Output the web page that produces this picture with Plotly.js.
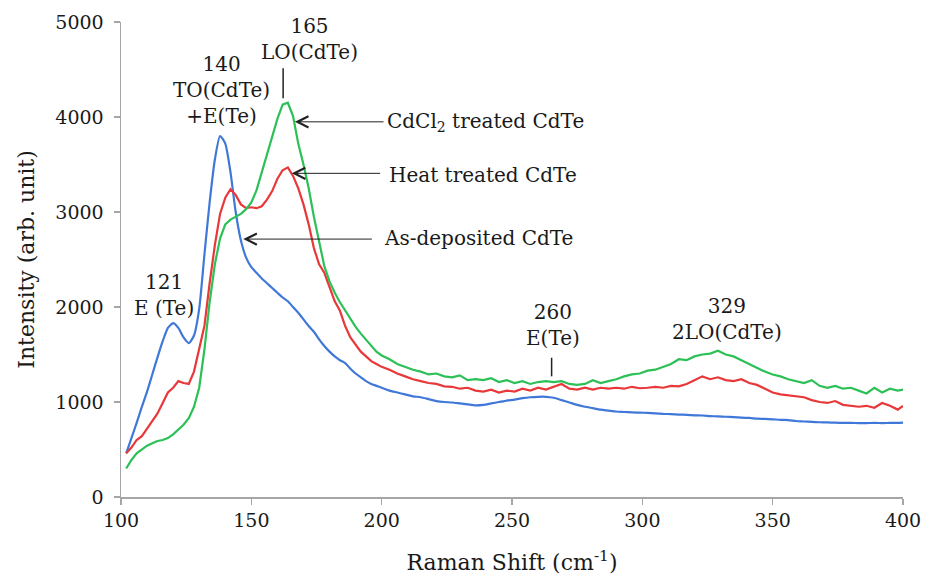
<!DOCTYPE html>
<html>
<head>
<meta charset="utf-8">
<script src="https://cdn.plot.ly/plotly-3.0.1.min.js"></script>
<style>html,body{margin:0;padding:0;background:#fff;}#chart{width:933px;height:580px;}</style>
</head>
<body>
<div id="chart"></div>
<script>
// Raman shift (cm^-1)
const ramanShift = [102,104,106,108,110,112,114,116,118,120,122,124,126,128,130,132,134,136,138,140,142,144,146,148,150,152,154,156,158,160,162,164,166,168,170,172,174,176,178,180,182,184,186,188,190,192,194,196,198,200,
203,206,209,212,215,218,221,224,227,230,233,236,239,242,245,248,251,254,257,260,263,266,269,272,275,278,281,284,287,290,293,296,299,302,305,308,311,314,317,320,323,326,329,332,335,338,341,344,347,350,353,356,359,362,365,368,371,374,377,380,383,386,389,392,395,398,400];

// As-deposited CdTe (blue)
const asDeposited = [460,620,780,950,1110,1290,1470,1640,1780,1830,1780,1680,1620,1700,1980,2550,3100,3550,3800,3720,3420,3000,2700,2520,2420,2360,2300,2250,2200,2150,2100,2060,2000,1940,1870,1800,1740,1660,1590,1530,1480,1440,1410,1350,1300,1260,1220,1190,1170,1150,
1120,1100,1080,1060,1050,1030,1010,1000,995,985,975,965,970,985,1000,1015,1025,1040,1050,1055,1055,1045,1020,995,970,950,935,920,910,900,895,890,888,885,880,875,872,868,865,860,858,852,848,845,840,835,832,825,822,818,812,810,800,795,790,787,785,782,780,780,778,778,780,778,780,780,782];

// Heat treated CdTe (red)
const heatTreated = [460,520,600,640,720,800,880,990,1100,1150,1220,1200,1190,1320,1550,1800,2250,2650,2980,3150,3240,3180,3080,3040,3050,3040,3060,3130,3220,3350,3440,3470,3380,3250,3080,2870,2620,2450,2360,2200,2060,1960,1800,1680,1600,1530,1480,1430,1400,1370,
1340,1300,1270,1240,1220,1200,1190,1165,1160,1140,1150,1120,1110,1130,1100,1120,1110,1140,1120,1150,1130,1160,1190,1140,1130,1150,1130,1150,1140,1150,1140,1160,1145,1150,1160,1150,1170,1165,1190,1230,1270,1240,1260,1230,1220,1240,1200,1180,1140,1100,1080,1070,1060,1050,1020,1000,990,1010,970,960,950,960,940,990,960,920,960];

// CdCl2 treated CdTe (green)
const cdcl2Treated = [300,390,460,500,540,565,590,600,620,660,710,760,830,950,1150,1550,2050,2450,2720,2870,2920,2950,2980,3030,3100,3230,3420,3620,3800,3980,4130,4150,4010,3720,3500,3250,2950,2700,2430,2270,2150,2050,1960,1870,1790,1720,1660,1590,1530,1490,
1450,1400,1370,1340,1320,1290,1300,1270,1260,1280,1230,1240,1230,1250,1210,1230,1200,1220,1190,1210,1220,1210,1220,1190,1180,1190,1230,1200,1220,1240,1270,1290,1300,1330,1340,1370,1400,1450,1440,1480,1500,1510,1540,1500,1480,1440,1400,1360,1320,1290,1270,1240,1220,1200,1230,1170,1150,1170,1140,1150,1120,1090,1150,1100,1140,1120,1130];

const xTicks = [100,150,200,250,300,350,400];
const yTicks = [0,1000,2000,3000,4000,5000];

const FONT = 'DejaVu Serif';
const TXT = '#1a1a1a';
const AX = '#a6a6a6';

const traces = [
  {x: ramanShift, y: asDeposited, name: 'As-deposited CdTe', mode: 'lines', line: {color: '#3f78d8', width: 2.2, shape: 'spline', smoothing: 0.6}},
  {x: ramanShift, y: heatTreated, name: 'Heat treated CdTe', mode: 'lines', line: {color: '#e8383a', width: 2.2}},
  {x: ramanShift, y: cdcl2Treated, name: 'CdCl2 treated CdTe', mode: 'lines', line: {color: '#2cc057', width: 2.2}}
];

function txt(x, y, text, xanchor) {
  return {x: x, y: y, xref: 'x', yref: 'y', text: text, showarrow: false,
          xanchor: xanchor || 'center', yanchor: 'middle',
          font: {family: FONT, size: 20, color: TXT}};
}
function arrow(x, y, ax, ay) {
  return {x: x, y: y, ax: ax, ay: ay, xref: 'x', yref: 'y', axref: 'x', ayref: 'y',
          text: '', showarrow: true, arrowhead: 5, arrowsize: 2.2, arrowwidth: 1, arrowcolor: '#222'};
}

const annotations = [
  txt(116.5, 2128, '121<br>E (Te)'),
  txt(138.7, 4282, '140<br>TO(CdTe)<br>+E(Te)'),
  txt(172.5, 4825, '165<br>LO(CdTe)'),
  txt(265.8, 1813, '260<br>E(Te)'),
  txt(332.4, 1876, '329<br>2LO(CdTe)'),
  txt(201.3, 3949, 'CdCl<sub>2</sub> treated CdTe', 'left'),
  txt(201.9, 3389, 'Heat treated CdTe', 'left'),
  txt(200.0, 2727, 'As-deposited CdTe', 'left'),
  arrow(166.7, 3949, 201.3, 3949),
  arrow(165.5, 3407, 200.0, 3407),
  arrow(146.9, 2715, 196.8, 2715)
];

const shapes = [
  {type: 'line', xref: 'x', yref: 'y', x0: 162.2, x1: 162.2, y0: 4198, y1: 4513, line: {color: '#222', width: 1.5}},
  {type: 'line', xref: 'x', yref: 'y', x0: 265.2, x1: 265.2, y0: 1270, y1: 1466, line: {color: '#222', width: 1.5}}
];

const layout = {
  width: 933, height: 580,
  margin: {l: 121, r: 30, t: 22, b: 82.5},
  paper_bgcolor: '#fff', plot_bgcolor: '#fff',
  showlegend: false,
  font: {family: FONT, color: TXT, size: 19},
  xaxis: {
    range: [100, 400], tickvals: xTicks, ticktext: xTicks.map(String),
    showgrid: false, zeroline: false, showline: true, linecolor: AX, linewidth: 1.5,
    ticks: 'outside', ticklen: 6, tickcolor: AX, tickwidth: 1.5,
    tickfont: {family: FONT, size: 19, color: TXT},
    title: {text: 'Raman Shift (cm<sup>-1</sup>)', font: {family: FONT, size: 22, color: TXT}, standoff: 24}
  },
  yaxis: {
    range: [0, 5000], tickvals: yTicks, ticktext: yTicks.map(String),
    showgrid: false, zeroline: false, showline: true, linecolor: AX, linewidth: 1.5,
    ticks: 'outside', ticklen: 6, tickcolor: AX, tickwidth: 1.5, ticklabelstandoff: 6,
    tickfont: {family: FONT, size: 19, color: TXT},
    title: {text: 'Intensity (arb. unit)', font: {family: FONT, size: 22, color: TXT}, standoff: 14}
  },
  annotations: annotations,
  shapes: shapes
};

Plotly.newPlot('chart', traces, layout, {staticPlot: true, displayModeBar: false});
</script>
</body>
</html>
